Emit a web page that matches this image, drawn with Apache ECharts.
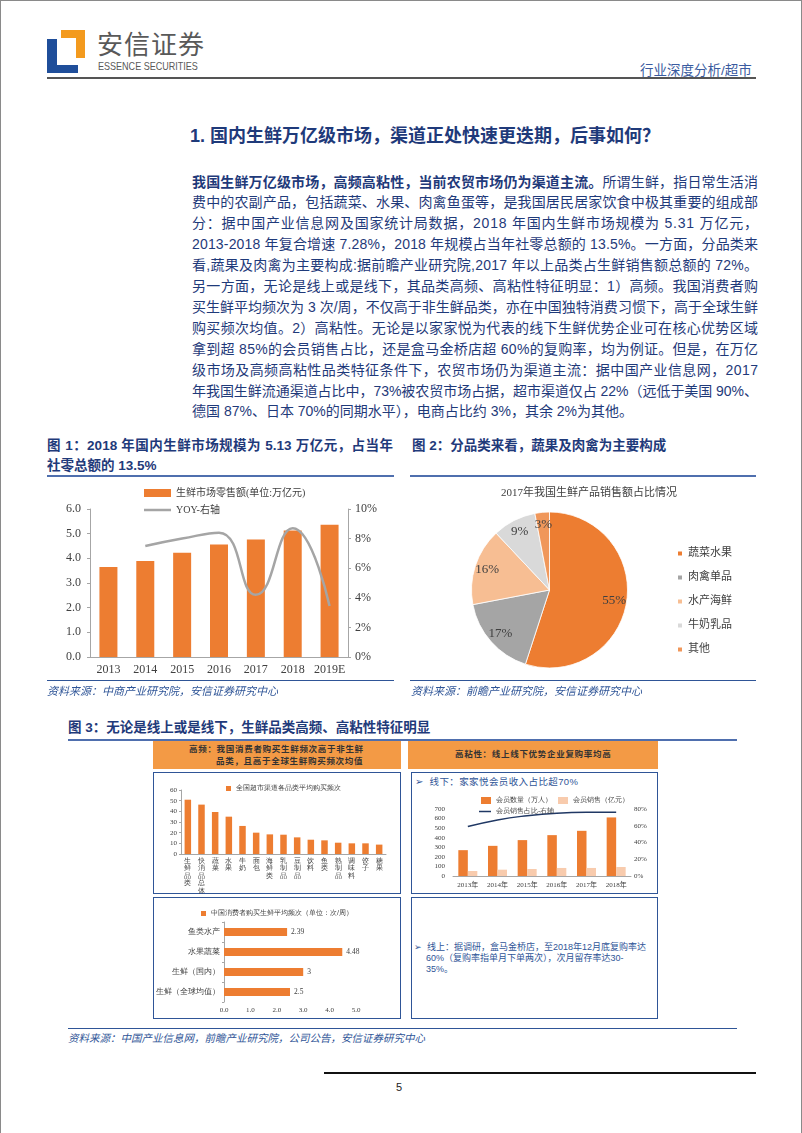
<!DOCTYPE html>
<html><head><meta charset="utf-8">
<script src="https://cdn.jsdelivr.net/npm/echarts@6/dist/echarts.min.js"></script>
<style>
body{margin:0;background:#fff;}
#page{position:relative;width:802px;height:1133px;overflow:hidden;box-sizing:border-box;border:1px solid #8a8a8a;border-bottom:none;font-family:"Liberation Sans","Noto Sans CJK SC",sans-serif;}
.a{position:absolute;}
.para{left:191px;top:170.5px;width:566px;font-size:14px;line-height:20.9px;color:#1F3A7A;}
.para div{white-space:nowrap;}
.ftitle{font-size:13.5px;font-weight:bold;color:#1F3A7A;line-height:20px;}
.src{font-style:italic;color:#2F5597;font-size:11px;white-space:nowrap;}
.rule{height:2px;background:#4F6FAE;}
.panel{border:1.5px solid #2F5597;box-sizing:border-box;}
.obox{background:#F39A45;}
.otext{font-size:8.5px;font-weight:bold;color:#333;letter-spacing:0.7px;white-space:nowrap;line-height:12px;}
</style></head><body>
<div id="page">
  <!-- logo -->
  <div class="a" style="left:60px;top:29px;width:24px;height:8px;background:#F39A1E"></div>
  <div class="a" style="left:75px;top:29px;width:9px;height:28px;background:#F39A1E"></div>
  <div class="a" style="left:46px;top:38px;width:10px;height:34px;background:#1F4E9A"></div>
  <div class="a" style="left:46px;top:64px;width:31px;height:8px;background:#1F4E9A"></div>
  <div class="a" style="left:96px;top:28px;font-size:26px;color:#595959;line-height:32px;letter-spacing:1px;">安信证券</div>
  <div class="a" style="left:97px;top:60px;font-size:10.5px;color:#595959;line-height:11px;transform:scaleX(0.86);transform-origin:left;white-space:nowrap;">ESSENCE SECURITIES</div>
  <div class="a" style="left:639px;top:61px;font-size:13.5px;color:#3A5BA0;line-height:18px;white-space:nowrap;">行业深度分析/超市</div>
  <div class="a" style="left:46px;top:76px;width:709px;height:2px;background:#555;"></div>

  <!-- heading -->
  <div class="a" style="left:189px;top:123px;font-size:18px;font-weight:bold;color:#1F3A7A;line-height:24px;white-space:nowrap;">1. 国内生鲜万亿级市场，渠道正处快速更迭期，后事如何？</div>

  <div class="a para" id="para">
    <div><b>我国生鲜万亿级市场，高频高粘性，当前农贸市场仍为渠道主流。</b>所谓生鲜，指日常生活消</div>
    <div>费中的农副产品，包括蔬菜、水果、肉禽鱼蛋等，是我国居民居家饮食中极其重要的组成部</div>
    <div>分：据中国产业信息网及国家统计局数据，2018 年国内生鲜市场规模为 5.31 万亿元，</div>
    <div>2013-2018 年复合增速 7.28%，2018 年规模占当年社零总额的 13.5%。一方面，分品类来</div>
    <div>看,蔬果及肉禽为主要构成:据前瞻产业研究院,2017 年以上品类占生鲜销售额总额的 72%。</div>
    <div>另一方面，无论是线上或是线下，其品类高频、高粘性特征明显：1）高频。我国消费者购</div>
    <div>买生鲜平均频次为 3 次/周，不仅高于非生鲜品类，亦在中国独特消费习惯下，高于全球生鲜</div>
    <div>购买频次均值。2）高粘性。无论是以家家悦为代表的线下生鲜优势企业可在核心优势区域</div>
    <div>拿到超 85%的会员销售占比，还是盒马金桥店超 60%的复购率，均为例证。但是，在万亿</div>
    <div>级市场及高频高粘性品类特征条件下，农贸市场仍为渠道主流：据中国产业信息网，2017</div>
    <div>年我国生鲜流通渠道占比中，73%被农贸市场占据，超市渠道仅占 22%（远低于美国 90%、</div>
    <div class="last">德国 87%、日本 70%的同期水平），电商占比约 3%，其余 2%为其他。</div>
  </div>

  <!-- figure titles -->
  <div class="a ftitle" style="left:46px;top:435px;width:346px;text-align:justify;text-align-last:justify;">图 1：2018 年国内生鲜市场规模为 5.13 万亿元，占当年</div>
  <div class="a ftitle" style="left:46px;top:455px;">社零总额的 13.5%</div>
  <div class="a ftitle" style="left:411px;top:435px;white-space:nowrap;">图 2：分品类来看，蔬果及肉禽为主要构成</div>
  <div class="a rule" style="left:46px;top:474px;width:347px;"></div>
  <div class="a rule" style="left:409px;top:474px;width:346px;"></div>

  <div id="c1" class="a" style="left:40px;top:480px;width:360px;height:200px;"></div>
  <div id="c2" class="a" style="left:400px;top:480px;width:376px;height:198px;"></div>

  <div class="a" style="left:46px;top:679px;width:347px;height:1px;background:#2F5597;"></div>
  <div class="a" style="left:409px;top:679px;width:346px;height:1px;background:#2F5597;"></div>
  <div class="a src" style="left:46px;top:681px;">资料来源：中商产业研究院，安信证券研究中心</div>
  <div class="a src" style="left:410px;top:681px;">资料来源：前瞻产业研究院，安信证券研究中心</div>

  <!-- figure 3 -->
  <div class="a ftitle" style="left:67px;top:717px;white-space:nowrap;">图 3：无论是线上或是线下，生鲜品类高频、高粘性特征明显</div>
  <div class="a rule" style="left:67px;top:738px;width:669px;"></div>
  <div class="a obox" style="left:152px;top:740px;width:248px;height:28px;"></div>
  <div class="a obox" style="left:407px;top:740px;width:250px;height:28px;"></div>
  <div class="a otext" style="left:188px;top:742px;">高频：我国消费者购买生鲜频次高于非生鲜</div>
  <div class="a otext" style="left:215px;top:754px;">品类，且高于全球生鲜购买频次均值</div>
  <div class="a otext" style="left:454px;top:747px;">高粘性：线上线下优势企业复购率均高</div>

  <div class="a panel" style="left:152px;top:771px;width:248px;height:122px;"></div>
  <div class="a panel" style="left:410px;top:771px;width:247px;height:122px;"></div>
  <div class="a panel" style="left:152px;top:896px;width:248px;height:122px;"></div>
  <div class="a panel" style="left:410px;top:896px;width:247px;height:122px;"></div>

  <div class="a" style="left:414px;top:774px;font-size:9.5px;color:#2F5597;line-height:14px;white-space:nowrap;letter-spacing:0.4px;">➢&nbsp;&nbsp;线下：家家悦会员收入占比超70%</div>
  <div class="a" style="left:413px;top:941px;width:236px;font-size:9px;color:#2F5597;line-height:11px;">
    <div style="white-space:nowrap;">➢&nbsp;&nbsp;线上：据调研，盒马金桥店，至2018年12月底复购率达</div>
    <div style="padding-left:12px;white-space:nowrap;">60%（复购率指单月下单两次），次月留存率达30-</div>
    <div style="padding-left:12px;">35%。</div>
  </div>

  <div id="c3" class="a" style="left:152px;top:772px;width:248px;height:125px;"></div>
  <div id="c4" class="a" style="left:411px;top:772px;width:246px;height:120px;"></div>
  <div id="c5" class="a" style="left:152px;top:897px;width:248px;height:121px;"></div>

  <div class="a" style="left:67px;top:1027px;width:669px;height:1px;background:#2F5597;"></div>
  <div class="a src" style="left:67px;top:1029px;font-size:10.5px;">资料来源：中国产业信息网，前瞻产业研究院，公司公告，安信证券研究中心</div>

  <div class="a" style="left:323px;top:1071px;width:432px;height:1.5px;background:#111;"></div>
  <div class="a" style="left:395px;top:1080px;font-size:11px;color:#222;">5</div>
</div>
<script>
// ---------- data ----------
const fig1Years = ['2013','2014','2015','2016','2017','2018','2019E'];
const fig1Retail = [3.65, 3.89, 4.23, 4.56, 4.76, 5.13, 5.36];
const fig1Yoy = [null, 7.5, 8.0, 8.4, 4.2, 8.7, 3.45];
const fig1LeftAxis = [0, 6, 1];
const fig1RightAxis = [0, 10, 2];

const pieNames = ['蔬菜水果','肉禽单品','水产海鲜','牛奶乳品','其他'];
const pieValues = [55, 17, 16, 9, 3];
const pieColors = ['#ED7D31','#A5A5A5','#F7BE93','#D9D9D9','#F0975A'];

const freqCats = ['生鲜品类','快消品总体','蔬菜','水果','牛奶','面包','海鲜类','乳制品','豆制品','饮料','鱼类','熟制品','调味料','饺子','糖果'];
const freqVals = [50.9, 46.3, 39.4, 35.0, 26.3, 20.0, 18.4, 18.1, 15.6, 13.4, 12.8, 10.6, 10.0, 10.0, 8.8];

const jjyYears = ['2013年','2014年','2015年','2016年','2017年','2018年'];
const jjyMembers = [270, 315, 375, 427, 472, 612];
const jjySales = [52, 66, 73, 84, 84, 94];
const jjyShare = [59, 67, 72, 75, 76, 76];

const weekCats = ['生鲜（全球均值）','生鲜（国内）','水果蔬菜','鱼类水产'];
const weekVals = [2.5, 3, 4.48, 2.39];

// ---------- paragraph fitting (justify each line to 566px) ----------
document.querySelectorAll('#para div').forEach(d=>{
  if (d.classList.contains('last')) return;
  d.style.display='inline-block';
  const w = d.getBoundingClientRect().width;
  d.style.display='block';
  const n = d.textContent.length;
  d.style.letterSpacing = ((566 - w) / (n - 1)).toFixed(3) + 'px';
});

// ---------- charts ----------
const SERIF = '"Liberation Serif","Noto Sans CJK SC",serif';
const AX = '#A6A6A6';
const TXT = '#404040';

const c1 = echarts.init(document.getElementById('c1'));
c1.setOption({
  animation:false,
  textStyle:{fontFamily:SERIF},
  legend:[
    {left:98, top:2, itemWidth:27, itemHeight:8, icon:'rect', itemGap:4,
      textStyle:{fontSize:10, color:TXT, fontFamily:SERIF}, data:['生鲜市场零售额(单位:万亿元)']},
    {left:98, top:19, itemWidth:27, itemHeight:2.5, icon:'rect',
      textStyle:{fontSize:10, color:TXT, fontFamily:SERIF}, data:['YOY-右轴']}
  ],
  grid:{left:49, right:53, top:28, bottom:24},
  xAxis:{type:'category', data:fig1Years, axisLine:{lineStyle:{color:AX}}, axisTick:{show:false},
    axisLabel:{interval:0, color:TXT, fontSize:12, margin:7, fontFamily:SERIF}},
  yAxis:[
    {type:'value', min:fig1LeftAxis[0], max:fig1LeftAxis[1], interval:fig1LeftAxis[2],
      axisLine:{show:true, lineStyle:{color:AX}}, axisTick:{show:true, length:3, lineStyle:{color:AX}},
      splitLine:{show:false}, axisLabel:{formatter:v=>v.toFixed(1), color:TXT, fontSize:12, margin:9, fontFamily:SERIF}},
    {type:'value', min:fig1RightAxis[0], max:fig1RightAxis[1], interval:fig1RightAxis[2], position:'right',
      axisLine:{show:true, lineStyle:{color:AX}}, axisTick:{show:true, length:3, lineStyle:{color:AX}},
      splitLine:{show:false}, axisLabel:{formatter:'{value}%', color:TXT, fontSize:12, margin:7, fontFamily:SERIF}}
  ],
  series:[
    {type:'bar', name:'生鲜市场零售额(单位:万亿元)', data:fig1Retail, barWidth:18, itemStyle:{color:'#ED7D31'}},
    {type:'line', name:'YOY-右轴', yAxisIndex:1, data:fig1Yoy, smooth:0.5, symbol:'none',
      lineStyle:{color:'#A5A5A5', width:2.5}, itemStyle:{color:'#A5A5A5'}}
  ]
});

const c2 = echarts.init(document.getElementById('c2'));
const pieData = pieNames.map((n,i)=>({name:n, value:pieValues[i], itemStyle:{color:pieColors[i]}}));
c2.setOption({
  animation:false,
  title:{text:'2017年我国生鲜产品销售额占比情况', left:'center', top:2,
    textStyle:{fontSize:11, fontWeight:'normal', color:TXT, fontFamily:SERIF}},
  legend:{orient:'vertical', left:270, top:62, itemWidth:6, itemHeight:6, itemGap:13, icon:'rect',
    textStyle:{fontSize:11, color:TXT, fontFamily:SERIF}, data:pieNames},
  series:[
    {type:'pie', radius:78, center:[148.5,109], startAngle:90, clockwise:true,
      label:{show:false}, labelLine:{show:false}, itemStyle:{borderColor:'#fff', borderWidth:0.8}, data:pieData},
    {type:'pie', radius:[47,78], center:[148.5,109], startAngle:90, clockwise:true, silent:true,
      itemStyle:{color:'rgba(0,0,0,0)'}, labelLine:{show:false},
      label:{show:true, position:'inside', formatter:'{c}%', fontSize:13, color:TXT, fontFamily:SERIF},
      data:pieNames.map((n,i)=>({name:n, value:pieValues[i], itemStyle:{color:'rgba(0,0,0,0)'}}))}
  ]
});

const c3 = echarts.init(document.getElementById('c3'));
c3.setOption({
  animation:false,
  legend:{left:68, top:7, itemWidth:5, itemHeight:5, icon:'rect',
    textStyle:{fontSize:7, color:TXT}, data:['全国超市渠道各品类平均购买频次']},
  grid:{left:28, right:15, top:17, bottom:44},
  xAxis:{type:'category', data:freqCats, axisLine:{lineStyle:{color:AX}}, axisTick:{show:false},
    axisLabel:{interval:0, fontSize:7, lineHeight:7.5, color:TXT, margin:3, verticalAlign:'top',
      formatter:v=>v.split('').join('\n')}},
  yAxis:{type:'value', min:0, max:60, interval:10, axisLine:{show:true, lineStyle:{color:AX}},
    axisTick:{show:true, length:2, lineStyle:{color:AX}}, splitLine:{show:false},
    axisLabel:{fontSize:7, color:TXT, margin:4, fontFamily:SERIF}},
  series:[{type:'bar', name:'全国超市渠道各品类平均购买频次', data:freqVals, barWidth:6.5, itemStyle:{color:'#ED7D31'}}]
});

const c4 = echarts.init(document.getElementById('c4'));
c4.setOption({
  animation:false,
  legend:[
    {left:64, top:19, itemWidth:10, itemHeight:7, itemGap:6, icon:'rect',
      textStyle:{fontSize:7, color:TXT}, data:['会员数量（万人）','会员销售（亿元）']},
    {left:62, top:30, itemWidth:12, itemHeight:1.5, icon:'rect', textStyle:{fontSize:7, color:TXT}, data:['会员销售占比-右轴']}
  ],
  grid:{left:41, right:27, top:36, bottom:17},
  xAxis:{type:'category', data:jjyYears, axisLine:{lineStyle:{color:AX}}, axisTick:{show:false},
    axisLabel:{interval:0, fontSize:7, color:TXT, margin:6, fontFamily:SERIF}},
  yAxis:[
    {type:'value', min:0, max:700, interval:100, axisLine:{show:false}, axisTick:{show:false}, splitLine:{show:false},
      axisLabel:{fontSize:7, color:TXT, margin:8, fontFamily:SERIF}},
    {type:'value', min:0, max:80, interval:20, position:'right', axisLine:{show:false}, axisTick:{show:false}, splitLine:{show:false},
      axisLabel:{formatter:'{value}%', fontSize:7, color:TXT, margin:3, fontFamily:SERIF}}
  ],
  series:[
    {type:'bar', name:'会员数量（万人）', data:jjyMembers, barWidth:9.5, barGap:'0%', itemStyle:{color:'#ED7D31'}},
    {type:'bar', name:'会员销售（亿元）', data:jjySales, barWidth:9.5, barGap:'0%', itemStyle:{color:'#F8CBAD'}},
    {type:'line', name:'会员销售占比-右轴', yAxisIndex:1, data:jjyShare, smooth:0.5, symbol:'none',
      lineStyle:{color:'#203864', width:1.5}, itemStyle:{color:'#203864'}}
  ]
});

const c5 = echarts.init(document.getElementById('c5'));
c5.setOption({
  animation:false,
  legend:{left:43, top:7, itemWidth:5, itemHeight:5, icon:'rect',
    textStyle:{fontSize:7, color:TXT}, data:['中国消费者购买生鲜平均频次（单位：次/周）']},
  grid:{left:68, right:45, top:24, bottom:17},
  yAxis:{type:'category', data:weekCats, axisLine:{show:true, lineStyle:{color:AX}}, axisTick:{show:true, length:2, lineStyle:{color:AX}},
    axisLabel:{fontSize:7.5, color:TXT, margin:4}},
  xAxis:{type:'value', min:0, max:5, interval:1, axisLine:{show:false}, axisTick:{show:false}, splitLine:{show:false},
    axisLabel:{formatter:v=>v.toFixed(1), fontSize:7, color:TXT, margin:5, fontFamily:SERIF}},
  series:[{type:'bar', name:'中国消费者购买生鲜平均频次（单位：次/周）', data:weekVals, barWidth:8, itemStyle:{color:'#ED7D31'},
    label:{show:true, position:'right', fontSize:7.5, color:TXT, fontFamily:SERIF, distance:4}}]
});
</script>
</body></html>
